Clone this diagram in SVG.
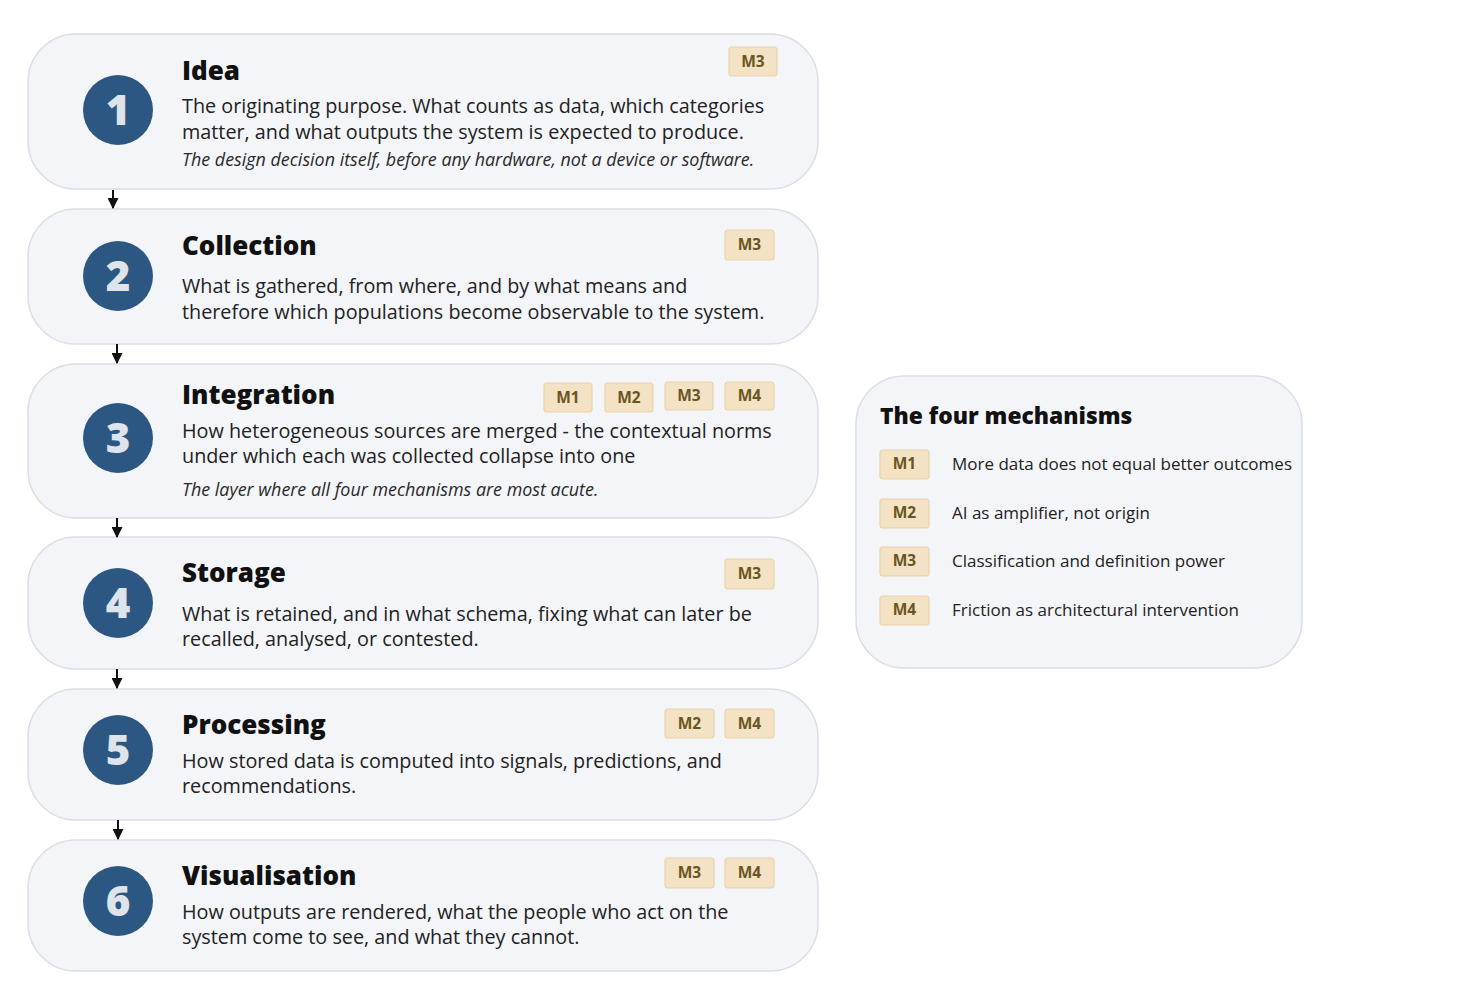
<svg xmlns="http://www.w3.org/2000/svg" width="1481" height="990" viewBox="0 0 1481 990">
<style>
.card{fill:#f4f5f8;stroke:#dadee5;stroke-width:1.5}
.num-c{fill:#2c5783}
.num{font-family:"Open Sans",sans-serif;font-weight:800;font-size:42px;fill:#dfe3ea;text-anchor:middle}
.title{font-family:"Open Sans",sans-serif;font-weight:800;font-size:26px;fill:#111}
.body{font-family:"Open Sans",sans-serif;font-size:19.8px;fill:#222}
.note{font-family:"Open Sans",sans-serif;font-style:italic;font-size:17.9px;fill:#2a2a2a}
.badge{fill:#f3e2c3;stroke:#e9d4a9;stroke-width:1.2}
.bt{font-family:"Open Sans",sans-serif;font-weight:700;font-size:15.5px;fill:#6b5522;text-anchor:middle}
.lt{font-family:"Open Sans",sans-serif;font-size:17px;fill:#222}
.lh{font-family:"Open Sans",sans-serif;font-weight:800;font-size:22.8px;fill:#111}
.conn{stroke:#111;stroke-width:2;fill:none}
</style>
<defs>
<marker id="ah" viewBox="0 0 10 10" refX="9" refY="5" markerWidth="5.5" markerHeight="5.5" orient="auto">
<path d="M0,0 L10,5 L0,10 z" fill="#111"/>
</marker>
</defs>
<rect width="1481" height="990" fill="#ffffff"/>

<g id="card1">
<rect class="card" x="28" y="34" width="790" height="155" rx="48"/>
<circle class="num-c" cx="118" cy="110" r="35"/>
<text class="num" x="118" y="125">1</text>
<text class="title" x="182" y="80">Idea</text>
<text class="body" x="182" y="113">The originating purpose. What counts as data, which categories</text>
<text class="body" x="182" y="139">matter, and what outputs the system is expected to produce.</text>
<text class="note" x="182" y="166">The design decision itself, before any hardware, not a device or software.</text>
<rect class="badge" x="729" y="47" width="48" height="29" rx="3"/><text class="bt" x="753" y="67">M3</text>
</g>

<g id="card2">
<rect class="card" x="28" y="209" width="790" height="135" rx="48"/>
<circle class="num-c" cx="118" cy="276" r="35"/>
<text class="num" x="118" y="291">2</text>
<text class="title" x="182" y="255">Collection</text>
<text class="body" x="182" y="293">What is gathered, from where, and by what means and</text>
<text class="body" x="182" y="319">therefore which populations become observable to the system.</text>
<rect class="badge" x="725" y="230" width="49" height="30" rx="3"/><text class="bt" x="749.5" y="250">M3</text>
</g>

<g id="card3">
<rect class="card" x="28" y="364" width="790" height="154" rx="48"/>
<circle class="num-c" cx="118" cy="438" r="35"/>
<text class="num" x="118" y="453">3</text>
<text class="title" x="182" y="404">Integration</text>
<text class="body" x="182" y="438">How heterogeneous sources are merged - the contextual norms</text>
<text class="body" x="182" y="463">under which each was collected collapse into one</text>
<text class="note" x="182" y="496">The layer where all four mechanisms are most acute.</text>
<rect class="badge" x="544" y="383" width="48" height="29" rx="3"/><text class="bt" x="568" y="403">M1</text>
<rect class="badge" x="605" y="383" width="48" height="29" rx="3"/><text class="bt" x="629" y="403">M2</text>
<rect class="badge" x="665" y="382" width="48" height="28" rx="3"/><text class="bt" x="689" y="401">M3</text>
<rect class="badge" x="725" y="382" width="49" height="28" rx="3"/><text class="bt" x="749.5" y="401">M4</text>
</g>

<g id="card4">
<rect class="card" x="28" y="537" width="790" height="132" rx="48"/>
<circle class="num-c" cx="118" cy="603" r="35"/>
<text class="num" x="118" y="618">4</text>
<text class="title" x="182" y="582">Storage</text>
<text class="body" x="182" y="621">What is retained, and in what schema, fixing what can later be</text>
<text class="body" x="182" y="646">recalled, analysed, or contested.</text>
<rect class="badge" x="725" y="559" width="49" height="30" rx="3"/><text class="bt" x="749.5" y="579">M3</text>
</g>

<g id="card5">
<rect class="card" x="28" y="689" width="790" height="131" rx="48"/>
<circle class="num-c" cx="118" cy="750" r="35"/>
<text class="num" x="118" y="765">5</text>
<text class="title" x="182" y="734">Processing</text>
<text class="body" x="182" y="768">How stored data is computed into signals, predictions, and</text>
<text class="body" x="182" y="793">recommendations.</text>
<rect class="badge" x="665" y="709" width="49" height="29" rx="3"/><text class="bt" x="689.5" y="729">M2</text>
<rect class="badge" x="725" y="709" width="49" height="29" rx="3"/><text class="bt" x="749.5" y="729">M4</text>
</g>

<g id="card6">
<rect class="card" x="28" y="840" width="790" height="131" rx="48"/>
<circle class="num-c" cx="118" cy="901" r="35"/>
<text class="num" x="118" y="916">6</text>
<text class="title" x="182" y="885">Visualisation</text>
<text class="body" x="182" y="919">How outputs are rendered, what the people who act on the</text>
<text class="body" x="182" y="944">system come to see, and what they cannot.</text>
<rect class="badge" x="665" y="858" width="49" height="30" rx="3"/><text class="bt" x="689.5" y="878">M3</text>
<rect class="badge" x="725" y="858" width="49" height="30" rx="3"/><text class="bt" x="749.5" y="878">M4</text>
</g>

<g id="connectors">
<line class="conn" x1="113" y1="190" x2="113" y2="208" marker-end="url(#ah)"/>
<line class="conn" x1="117" y1="344" x2="117" y2="363" marker-end="url(#ah)"/>
<line class="conn" x1="117" y1="518" x2="117" y2="537" marker-end="url(#ah)"/>
<line class="conn" x1="117" y1="669" x2="117" y2="688" marker-end="url(#ah)"/>
<line class="conn" x1="118" y1="820" x2="118" y2="839" marker-end="url(#ah)"/>
</g>

<g id="legend">
<rect class="card" x="856" y="376" width="446" height="292" rx="48"/>
<text class="lh" x="880" y="424">The four mechanisms</text>
<rect class="badge" x="880" y="450" width="49" height="29" rx="3"/><text class="bt" x="904.5" y="469">M1</text>
<text class="lt" x="952" y="470">More data does not equal better outcomes</text>
<rect class="badge" x="880" y="499" width="49" height="29" rx="3"/><text class="bt" x="904.5" y="518">M2</text>
<text class="lt" x="952" y="519">AI as amplifier, not origin</text>
<rect class="badge" x="880" y="547" width="49" height="29" rx="3"/><text class="bt" x="904.5" y="566">M3</text>
<text class="lt" x="952" y="567">Classification and definition power</text>
<rect class="badge" x="880" y="596" width="49" height="29" rx="3"/><text class="bt" x="904.5" y="615">M4</text>
<text class="lt" x="952" y="616">Friction as architectural intervention</text>
</g>
</svg>
